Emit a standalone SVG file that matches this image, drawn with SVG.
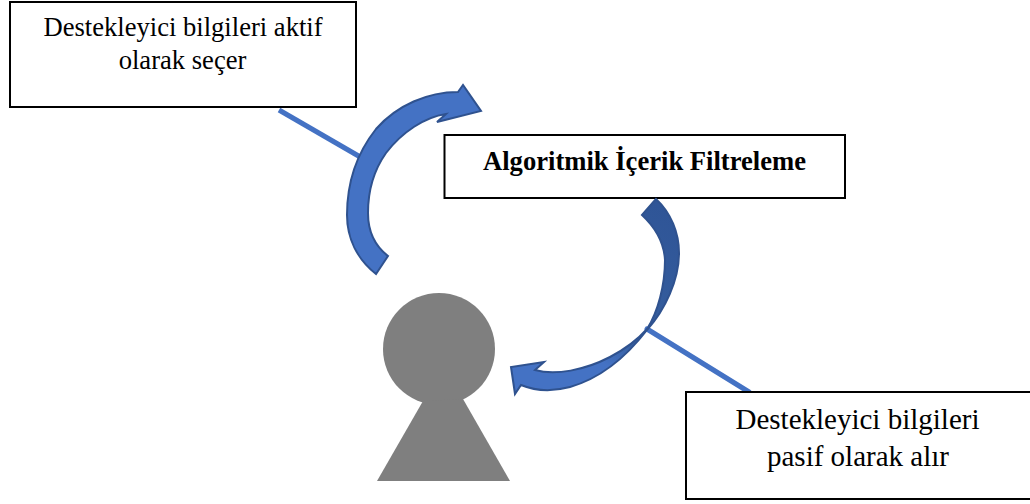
<svg xmlns="http://www.w3.org/2000/svg" width="1030" height="504" viewBox="0 0 1030 504">
<style>
.box{fill:#fff;stroke:#000;stroke-width:2}
.t{font-family:"Liberation Serif","Times New Roman",serif;font-size:26.6px;fill:#000;text-anchor:middle}
.b{font-weight:bold}
.p{font-size:29px}
.arrow{stroke:#2f528f;stroke-width:2;stroke-linejoin:miter}
.lead{stroke:#4472c4;stroke-width:5;fill:none}
.person{fill:#7f7f7f}
</style>
<defs>
<linearGradient id="g2" gradientUnits="userSpaceOnUse" x1="650" y1="200" x2="540" y2="390">
<stop offset="0" stop-color="#2f5597"/><stop offset="0.6" stop-color="#365f9f"/><stop offset="0.75" stop-color="#4472c4"/><stop offset="1" stop-color="#4472c4"/>
</linearGradient>
</defs>
<rect width="1030" height="504" fill="#fff"/>
<g id="connectors">
<line class="lead" x1="279" y1="110" x2="362" y2="158"/>
<line class="lead" x1="647" y1="329" x2="749" y2="392" stroke-linecap="round"/>
</g>
<g id="node-active">
<rect class="box" x="10" y="2" width="346" height="105"/>
<text class="t" x="183" y="36">Destekleyici bilgileri aktif</text>
<text class="t" x="182.5" y="69">olarak seçer</text>
</g>
<g id="node-filter">
<rect class="box" x="444.5" y="135" width="400.500" height="63"/>
<text class="t b" x="644.500" y="170">Algoritmik İçerik Filtreleme</text>
</g>
<g id="node-passive">
<rect class="box" x="686" y="392" width="346" height="107"/>
<text class="t p" x="857.500" y="429">Destekleyici bilgileri</text>
<text class="t p" x="858" y="466">pasif olarak alır</text>
</g>
<g id="arrow-active">
<path class="arrow" fill="#4472c4" d="M376 274C357 259 347 238 347 215C347 183 357 153 376 129C397 105 428 92 458 92L463 85L481 111L437 122L446 114C425 117 402 132 386 153C374 170 368 192 368 213C368 232 375 246 388 256Z"/>
</g>
<g id="arrow-passive">
<path class="arrow" fill="url(#g2)" stroke-width="1.5" d="M656 199C671 213 679 233 679 253C679 280 665 310 647 330C630 352 605 377 570 387C555 391 538 392 521 385L515 394L511 367L544 362L535 370C555 376 585 370 610 357C627 348 640 337 647 329C658 312 665 285 665 260C664 243 656 228 642 215Z"/>
</g>
<g id="person">
<circle class="person" cx="439" cy="349" r="56"/>
<path class="person" d="M423 401L463 399L510 481H377Z"/>
</g>
</svg>
